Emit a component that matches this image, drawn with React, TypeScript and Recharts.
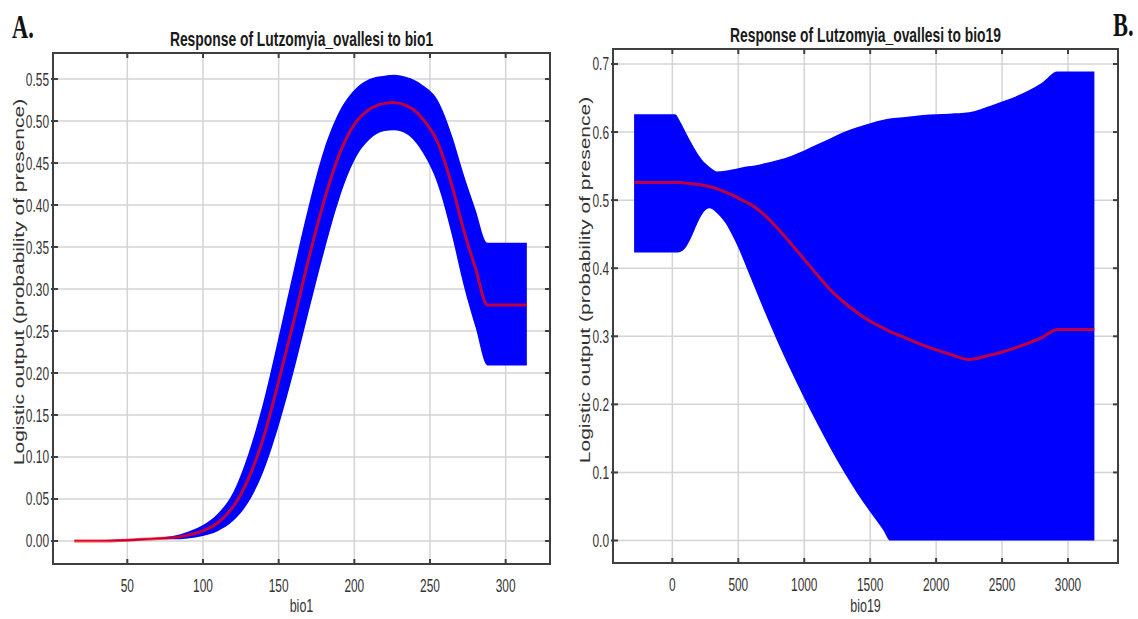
import React from 'react';
import { ComposedChart, Area, Line, XAxis, YAxis, CartesianGrid, ReferenceArea } from 'recharts';

// bio1 response curve (mean and +/- band)
const bio1X = [15, 30, 50, 60, 70, 80, 90, 100, 110, 120, 130, 140, 150, 160, 170, 180, 190, 200, 210, 220, 226, 235, 245, 255, 265, 272, 280, 288, 300, 314];
const bio1Mean = [0, 0, 0.001, 0.002, 0.003, 0.004, 0.007, 0.012, 0.022, 0.041, 0.074, 0.123, 0.19, 0.262, 0.337, 0.405, 0.46, 0.496, 0.514, 0.521, 0.522, 0.518, 0.503, 0.475, 0.42, 0.372, 0.325, 0.281, 0.281, 0.281];
const bio1Lower = [0, 0, 0, 0.001, 0.002, 0.002, 0.003, 0.006, 0.012, 0.024, 0.046, 0.083, 0.137, 0.202, 0.274, 0.344, 0.407, 0.453, 0.478, 0.488, 0.489, 0.484, 0.463, 0.425, 0.36, 0.306, 0.255, 0.209, 0.209, 0.209];
const bio1Upper = [0.001, 0.001, 0.002, 0.003, 0.004, 0.006, 0.011, 0.019, 0.033, 0.058, 0.104, 0.166, 0.243, 0.323, 0.4, 0.466, 0.511, 0.537, 0.55, 0.554, 0.555, 0.552, 0.543, 0.525, 0.48, 0.438, 0.395, 0.355, 0.355, 0.355];
const bio1XTicks = [50, 100, 150, 200, 250, 300];
const bio1YTicks = [0, 0.05, 0.1, 0.15, 0.2, 0.25, 0.3, 0.35, 0.4, 0.45, 0.5, 0.55];

// bio19 response curve
const bio19X = [-290, 0, 20, 60, 100, 150, 200, 250, 280, 300, 337, 400, 450, 500, 550, 600, 700, 800, 900, 1000, 1100, 1200, 1300, 1400, 1500, 1600, 1650, 1700, 1800, 1900, 2000, 2100, 2250, 2400, 2500, 2600, 2700, 2800, 2920, 3200];
const bio19Mean = [0.526, 0.526, 0.526, 0.526, 0.525, 0.524, 0.523, 0.521, 0.52, 0.519, 0.517, 0.512, 0.508, 0.503, 0.498, 0.493, 0.478, 0.458, 0.436, 0.413, 0.39, 0.368, 0.35, 0.335, 0.322, 0.312, 0.307, 0.303, 0.295, 0.287, 0.28, 0.274, 0.266, 0.272, 0.277, 0.283, 0.29, 0.298, 0.31, 0.31];
const bio19Lower = [0.423, 0.423, 0.423, 0.424, 0.43, 0.448, 0.47, 0.485, 0.488, 0.487, 0.481, 0.467, 0.45, 0.43, 0.407, 0.383, 0.336, 0.291, 0.249, 0.209, 0.171, 0.135, 0.101, 0.07, 0.042, 0.015, 0, 0, 0, 0, 0, 0, 0, 0, 0, 0, 0, 0, 0, 0];
const bio19Upper = [0.626, 0.626, 0.626, 0.615, 0.6, 0.582, 0.566, 0.554, 0.549, 0.546, 0.542, 0.543, 0.545, 0.547, 0.549, 0.55, 0.554, 0.559, 0.565, 0.573, 0.582, 0.591, 0.6, 0.607, 0.613, 0.618, 0.62, 0.621, 0.623, 0.625, 0.626, 0.627, 0.629, 0.638, 0.645, 0.652, 0.661, 0.672, 0.689, 0.689];
const bio19XTicks = [0, 500, 1000, 1500, 2000, 2500, 3000];
const bio19YTicks = [0, 0.1, 0.2, 0.3, 0.4, 0.5, 0.6, 0.7];

const bio1Data = bio1X.map((x, i) => ({ x, mean: bio1Mean[i], band: [bio1Lower[i], bio1Upper[i]] }));
const bio19Data = bio19X.map((x, i) => ({ x, mean: bio19Mean[i], band: [bio19Lower[i], bio19Upper[i]] }));

const SQ = 0.66; // the picture is squeezed horizontally
const SANS = '"Liberation Sans", Arial, sans-serif';
const SERIF = '"Liberation Serif", "Times New Roman", serif';
const FRAME = '#3f3f3f';

type Box = { left: number; right: number; top: number; bottom: number };

const XTick = (props: any) => {
  const { x, payload, box } = props;
  return (
    <g>
      <line x1={x} x2={x} y1={box.top} y2={box.top + 5} stroke={FRAME} strokeWidth={2} />
      <line x1={x} x2={x} y1={box.bottom} y2={box.bottom - 5} stroke={FRAME} strokeWidth={2} />
      <text
        transform={`translate(${x},${box.bottom + 28}) scale(${SQ},1)`}
        textAnchor="middle"
        fontSize={18}
        fontFamily={SANS}
        fill="#333"
      >
        {payload.value}
      </text>
    </g>
  );
};

const YTick = (props: any) => {
  const { y, payload, box, digits } = props;
  return (
    <g>
      <line x1={box.left - 2} x2={box.left + 5} y1={y} y2={y} stroke={FRAME} strokeWidth={2} />
      <line x1={box.right - 5} x2={box.right} y1={y} y2={y} stroke={FRAME} strokeWidth={2} />
      <text
        transform={`translate(${box.left - 4},${y + 6.5}) scale(${SQ},1)`}
        textAnchor="end"
        fontSize={18}
        fontFamily={SANS}
        fill="#333"
      >
        {Number(payload.value).toFixed(digits)}
      </text>
    </g>
  );
};

interface PanelProps {
  data: any[];
  width: number;
  top: number;
  right: number;
  axisW: number;
  axisH: number;
  xDomain: [number, number];
  yDomain: [number, number];
  xTicks: number[];
  yTicks: number[];
  digits: number;
}

const Panel: React.FC<PanelProps> = ({ data, width, top, right, axisW, axisH, xDomain, yDomain, xTicks, yTicks, digits }) => {
  const height = 619;
  const box: Box = { left: axisW, right: width - right, top, bottom: height - axisH };
  return (
    <ComposedChart width={width} height={height} data={data} margin={{ top, right, bottom: 0, left: 0 }}>
      <CartesianGrid stroke="#d4d4d4" strokeWidth={1.5} />
      <XAxis
        dataKey="x"
        type="number"
        domain={xDomain}
        allowDataOverflow
        ticks={xTicks}
        height={axisH}
        axisLine={false}
        tickLine={false}
        tick={(p: any) => <XTick {...p} box={box} />}
      />
      <YAxis
        type="number"
        domain={yDomain}
        allowDataOverflow
        ticks={yTicks}
        width={axisW}
        axisLine={false}
        tickLine={false}
        tick={(p: any) => <YTick {...p} box={box} digits={digits} />}
      />
      <Area type="monotone" dataKey="band" fill="#0000ff" fillOpacity={1} stroke="none" isAnimationActive={false} />
      <Line type="monotone" dataKey="mean" stroke="#ff0000" strokeOpacity={0.75} strokeWidth={3} dot={false} isAnimationActive={false} />
      <ReferenceArea x1={xDomain[0]} x2={xDomain[1]} y1={yDomain[0]} y2={yDomain[1]} fill="none" stroke={FRAME} strokeWidth={2} />
    </ComposedChart>
  );
};

const ylabel = 'Logistic output (probability of presence)';

export default function App() {
  return (
    <div style={{ position: 'absolute', left: 0, top: 0, width: 1138, height: 619, background: '#fff', overflow: 'hidden' }}>
      <div style={{ position: 'absolute', left: 0, top: 0 }}>
        <Panel
          data={bio1Data}
          width={560}
          top={53}
          right={10}
          axisW={53}
          axisH={55}
          xDomain={[0.9, 329.3]}
          yDomain={[-0.0274, 0.581]}
          xTicks={bio1XTicks}
          yTicks={bio1YTicks}
          digits={2}
        />
      </div>
      <div style={{ position: 'absolute', left: 560, top: 0 }}>
        <Panel
          data={bio19Data}
          width={578}
          top={49}
          right={20}
          axisW={53}
          axisH={56}
          xDomain={[-450, 3379]}
          yDomain={[-0.033, 0.722]}
          xTicks={bio19XTicks}
          yTicks={bio19YTicks}
          digits={1}
        />
      </div>
      <svg width={1138} height={619} style={{ position: 'absolute', left: 0, top: 0, pointerEvents: 'none' }}>
        <text transform={`translate(12,38) scale(${SQ},1)`} fontFamily={SERIF} fontWeight="bold" fontSize={34} fill="#111">A.</text>
        <text transform={`translate(1113,36) scale(${SQ},1)`} fontFamily={SERIF} fontWeight="bold" fontSize={34} fill="#111">B.</text>
        <text transform={`translate(301.5,46) scale(${SQ},1)`} textAnchor="middle" fontFamily={SANS} fontWeight="bold" fontSize={21} fill="#1a1a1a">
          Response of Lutzomyia_ovallesi to bio1
        </text>
        <text transform={`translate(865.5,42) scale(${SQ},1)`} textAnchor="middle" fontFamily={SANS} fontWeight="bold" fontSize={21} fill="#1a1a1a">
          Response of Lutzomyia_ovallesi to bio19
        </text>
        <text transform={`translate(301.5,612) scale(${SQ},1)`} textAnchor="middle" fontFamily={SANS} fontSize={19} fill="#333">bio1</text>
        <text transform={`translate(865.5,612) scale(${SQ},1)`} textAnchor="middle" fontFamily={SANS} fontSize={19} fill="#333">bio19</text>
        <text transform={`translate(24,282) scale(${SQ},1) rotate(-90)`} textAnchor="middle" fontFamily={SANS} fontSize={21} fill="#333">{ylabel}</text>
        <text transform={`translate(590,280) scale(${SQ},1) rotate(-90)`} textAnchor="middle" fontFamily={SANS} fontSize={21} fill="#333">{ylabel}</text>
      </svg>
    </div>
  );
}
